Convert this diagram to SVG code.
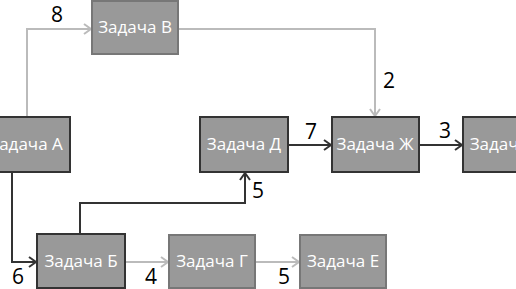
<svg xmlns="http://www.w3.org/2000/svg" width="516" height="289" viewBox="0 0 516 289">
<defs>
<style>
.box{fill:#999;stroke-width:2}
.dk{stroke:#333}
.lt{stroke:#777}
.t{font-family:"Open Sans","Liberation Sans",sans-serif;font-size:17px;fill:#fff;text-anchor:middle}
.n{font-family:"Open Sans","Liberation Sans",sans-serif;font-size:21px;fill:#000}
.cd{fill:none;stroke:#333;stroke-width:2}
.cl{fill:none;stroke:#bbb;stroke-width:2}
</style>
<marker id="ad" markerWidth="10" markerHeight="12" refX="9" refY="6" orient="auto" markerUnits="userSpaceOnUse"><path d="M2,1 L9,6 L2,11" fill="none" stroke="#333" stroke-width="2"/></marker>
<marker id="al" markerWidth="10" markerHeight="12" refX="9" refY="6" orient="auto" markerUnits="userSpaceOnUse"><path d="M2,1 L9,6 L2,11" fill="none" stroke="#bbb" stroke-width="2"/></marker>
</defs>
<rect width="516" height="289" fill="#fff"/>
<g id="connectors">
<path class="cl" d="M27,117 V29 H91" marker-end="url(#al)"/>
<path class="cl" d="M179,29 H375 V116" marker-end="url(#al)"/>
<path class="cd" d="M289,145 H331" marker-end="url(#ad)"/>
<path class="cd" d="M420,145 H462" marker-end="url(#ad)"/>
<path class="cd" d="M12,173 V262 H36" marker-end="url(#ad)"/>
<path class="cd" d="M80,234 V203 H245 V173" marker-end="url(#ad)"/>
<path class="cl" d="M126,262 H168" marker-end="url(#al)"/>
<path class="cl" d="M256,262 H299" marker-end="url(#al)"/>
<text class="n" x="51" y="22">8</text>
<text class="n" x="383" y="88">2</text>
<text class="n" x="305" y="139">7</text>
<text class="n" x="439" y="138">3</text>
<text class="n" x="252" y="198">5</text>
<text class="n" x="12" y="284">6</text>
<text class="n" x="145" y="284">4</text>
<text class="n" x="278" y="284">5</text>
</g>
<g id="taskA"><rect class="box dk" x="-17" y="117" width="87" height="55"/><text class="t" x="26" y="150">Задача А</text></g>
<g id="taskV"><rect class="box lt" x="92" y="1" width="86" height="53"/><text class="t" x="135" y="33">Задача В</text></g>
<g id="taskD"><rect class="box dk" x="200" y="117" width="88" height="55"/><text class="t" x="244" y="150">Задача Д</text></g>
<g id="taskZh"><rect class="box dk" x="332" y="117" width="87" height="55"/><text class="t" x="375" y="150">Задача Ж</text></g>
<g id="taskZ"><rect class="box dk" x="463" y="117" width="87" height="55"/><text class="t" x="506" y="150">Задача З</text></g>
<g id="taskB"><rect class="box dk" x="37" y="234" width="88" height="54"/><text class="t" x="81" y="267">Задача Б</text></g>
<g id="taskG"><rect class="box lt" x="169" y="235" width="86" height="53"/><text class="t" x="212" y="267">Задача Г</text></g>
<g id="taskE"><rect class="box lt" x="300" y="235" width="86" height="53"/><text class="t" x="343" y="267">Задача Е</text></g>
</svg>
